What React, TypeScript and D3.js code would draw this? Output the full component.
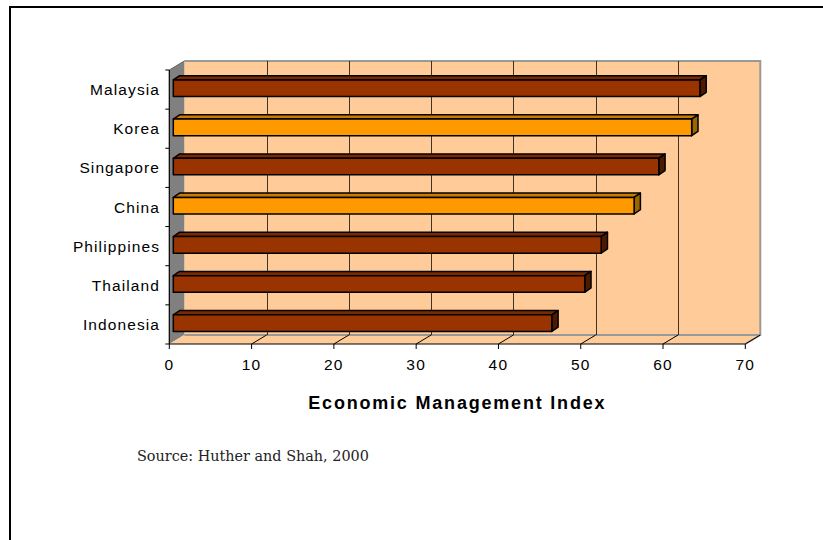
import React from "react";
import * as d3 from "d3";

const categories = ["Malaysia", "Korea", "Singapore", "China", "Philippines", "Thailand", "Indonesia"];
const values = [64, 63, 59, 56, 52, 50, 46];
const highlighted = [false, true, false, true, false, false, false];
const xTicks = [0, 10, 20, 30, 40, 50, 60, 70];
const axisTitle = "Economic Management Index";
const sourceText = "Source: Huther and Shah, 2000";

const W = 823;
const H = 540;
const DX = 15; // wall depth offset
const DY = -9;
const BOX = 4; // bar front offset from axis plane
const BOY = -1.3;
const BDX = 6.3; // bar depth
const BDY = -4.3;
const BAR_HALF = 8.3;

const FONT = "'Liberation Sans', Arial, sans-serif";

export default function App() {
  const x = d3.scaleLinear().domain([0, 70]).range([169.3, 745.3]);
  const y = d3.scaleBand<string>().domain(categories).range([70, 344]).padding(0);
  const x0 = x(0);
  const yTop = y.range()[0];
  const yBot = y.range()[1];
  const x70 = x(70);

  const pts = (arr: [number, number][]) => arr.map((p) => p.join(",")).join(" ");

  return (
    <svg
      width={W}
      height={H}
      style={{ position: "absolute", left: 0, top: 0, background: "#fff" }}
      xmlns="http://www.w3.org/2000/svg"
    >
      {/* outer frame */}
      <rect x={10} y={7} width={W + 20} height={H + 20} fill="#fff" stroke="#000" strokeWidth={2} />

      {/* back wall */}
      <rect x={x0 + DX} y={yTop + DY} width={x70 - x0} height={yBot - yTop} fill="#FFCC99" />
      {/* side wall */}
      <polygon
        points={pts([
          [x0, yTop],
          [x0 + DX, yTop + DY],
          [x0 + DX, yBot + DY],
          [x0, yBot],
        ])}
        fill="#808080"
      />
      {/* floor */}
      <polygon
        points={pts([
          [x0, yBot],
          [x0 + DX, yBot + DY],
          [x70 + DX, yBot + DY],
          [x70, yBot],
        ])}
        fill="#FFCC99"
      />
      {/* wall edges */}
      <polyline
        points={pts([
          [x0 + DX, yTop + DY],
          [x70 + DX, yTop + DY],
          [x70 + DX, yBot + DY],
          [x70, yBot],
        ])}
        fill="none"
        stroke="#999"
        strokeWidth={2}
      />
      <line x1={x0 + DX} x2={x70 + DX} y1={yBot + DY} y2={yBot + DY} stroke="#999" strokeWidth={2} />
      <line x1={x0} y1={yTop} x2={x0 + DX} y2={yTop + DY} stroke="#666" strokeWidth={1} />

      {/* gridlines on back wall and floor */}
      {xTicks
        .filter((t) => t > 0 && t < 70)
        .map((t) => (
          <line
            key={"g" + t}
            x1={Math.round(x(t) + DX) + 0.5}
            x2={Math.round(x(t) + DX) + 0.5}
            y1={yTop + DY}
            y2={yBot + DY}
            stroke="#000"
            strokeWidth={1}
            opacity={0.75}
          />
        ))}
      {xTicks
        .filter((t) => t > 0)
        .map((t) => (
          <line
            key={"f" + t}
            x1={x(t)}
            y1={yBot}
            x2={x(t) + DX}
            y2={yBot + DY}
            stroke="#000"
            strokeWidth={1}
          />
        ))}

      {/* bars */}
      {categories.map((c, i) => {
        const cy = (y(c) as number) + y.bandwidth() / 2 + BOY;
        const l = x0 + BOX;
        const r = x(values[i]) + BOX;
        const t = cy - BAR_HALF;
        const b = cy + BAR_HALF;
        const front = highlighted[i] ? "#FF9900" : "#993300";
        const top = highlighted[i] ? "#CC7A00" : "#7A2900";
        const side = highlighted[i] ? "#996600" : "#4D1A00";
        return (
          <g key={c} stroke="#000" strokeWidth={1.5} strokeLinejoin="round">
            <polygon
              points={pts([
                [l, t],
                [l + BDX, t + BDY],
                [r + BDX, t + BDY],
                [r, t],
              ])}
              fill={top}
            />
            <polygon
              points={pts([
                [r, t],
                [r + BDX, t + BDY],
                [r + BDX, b + BDY],
                [r, b],
              ])}
              fill={side}
            />
            <rect x={l} y={t} width={r - l} height={b - t} fill={front} />
          </g>
        );
      })}

      {/* y axis */}
      <line x1={x0} x2={x0} y1={yTop} y2={yBot} stroke="#000" strokeWidth={1.2} />
      {d3.range(categories.length + 1).map((k) => {
        const yy = yTop + k * y.bandwidth();
        return <line key={"yt" + k} x1={x0 - 4} x2={x0} y1={yy} y2={yy} stroke="#000" strokeWidth={1} />;
      })}
      {categories.map((c) => (
        <text
          key={"l" + c}
          x={160}
          y={(y(c) as number) + y.bandwidth() / 2}
          dy="0.36em"
          textAnchor="end"
          fontFamily={FONT}
          fontSize={15.5}
          letterSpacing={1.1}
          fill="#000"
        >
          {c}
        </text>
      ))}

      {/* x axis */}
      <line x1={x0} x2={x70} y1={yBot} y2={yBot} stroke="#000" strokeWidth={1.2} />
      {xTicks.map((t) => (
        <g key={"xt" + t}>
          <line x1={x(t)} x2={x(t)} y1={yBot} y2={yBot + 5} stroke="#000" strokeWidth={1} />
          <text
            x={x(t)}
            y={370}
            textAnchor="middle"
            fontFamily={FONT}
            fontSize={15.5}
            letterSpacing={1.2}
            fill="#000"
          >
            {t}
          </text>
        </g>
      ))}

      <text
        x={(x0 + x70) / 2}
        y={409}
        textAnchor="middle"
        fontFamily={FONT}
        fontSize={18}
        fontWeight="bold"
        letterSpacing={1.8}
        fill="#000"
      >
        {axisTitle}
      </text>

      <text x={137} y={461} fontFamily="'DejaVu Serif', serif" fontSize={14.4} fill="#222">
        {sourceText}
      </text>
    </svg>
  );
}
